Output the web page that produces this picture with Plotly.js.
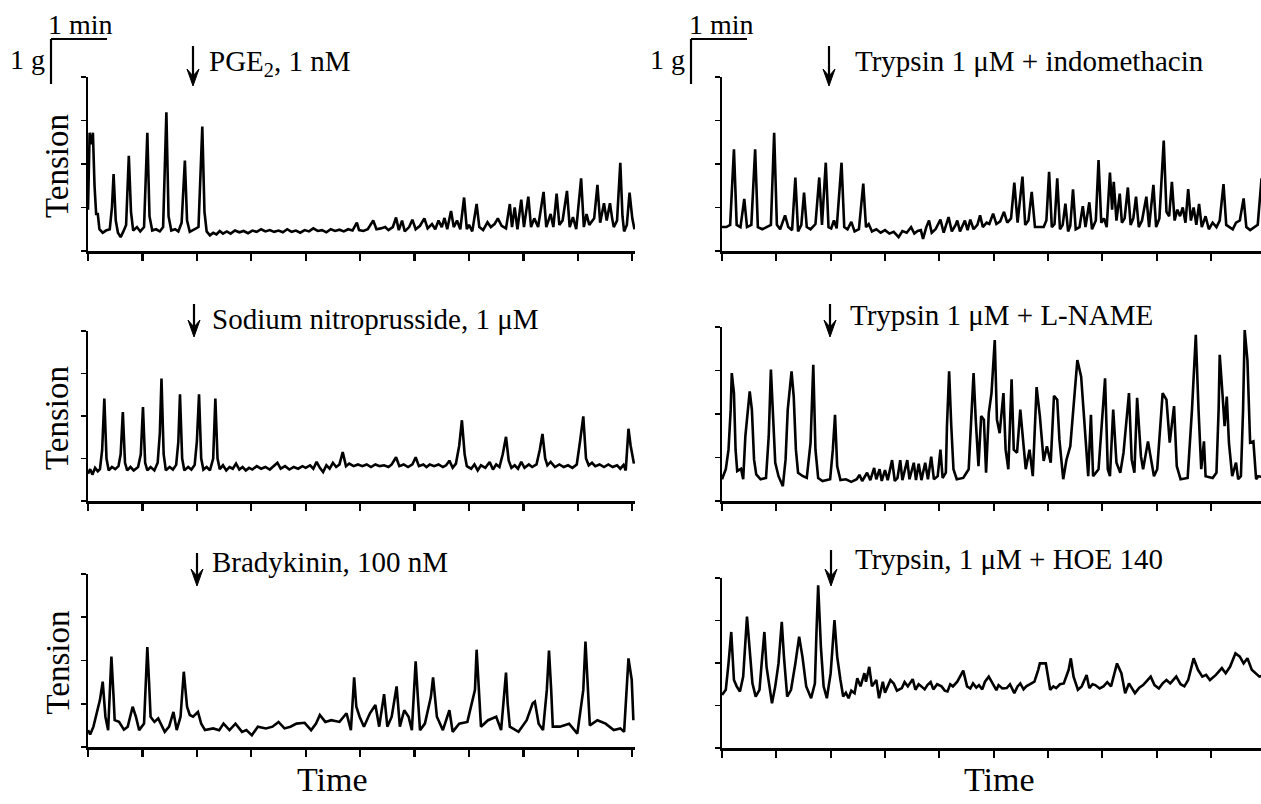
<!DOCTYPE html>
<html>
<head>
<meta charset="utf-8">
<script src="https://cdn.plot.ly/plotly-3.0.1.min.js"></script>
<style>html,body{margin:0;padding:0;background:#fff;}#chart{width:1261px;height:804px;}</style>
</head>
<body>
<div id="chart"></div>
<script>
// ---------- DATA (time in tick units, tension in tick units) ----------
const titles = ["PGE<sub>2</sub>, 1 nM", "Trypsin 1 μM + indomethacin", "Sodium nitroprusside, 1 μM",
                "Trypsin 1 μM + L-NAME", "Bradykinin, 100 nM", "Trypsin, 1 μM + HOE 140"];
const yTitle = "Tension";
const xTitle = "Time";
const scaleTime = "1 min";
const scaleForce = "1 g";

const tPGE = [0.00,0.03,0.06,0.09,0.12,0.15,0.18,0.21,0.27,0.33,0.40,0.44,0.47,0.51,0.55,0.60,0.65,0.70,0.75,0.79,0.83,0.90,0.96,1.03,1.09,1.13,1.18,1.25,1.32,1.38,1.44,1.48,1.53,1.60,1.66,1.72,1.78,1.82,1.87,1.95,2.03,2.10,2.14,2.18,2.24,2.30,2.36,2.42,2.48,2.55,2.62,2.70,2.78,2.86,2.94,3.02,3.10,3.18,3.26,3.34,3.42,3.50,3.58,3.66,3.74,3.82,3.90,3.98,4.06,4.14,4.22,4.30,4.38,4.46,4.54,4.62,4.70,4.78,4.86,4.94,4.98,5.06,5.14,5.24,5.30,5.38,5.46,5.52,5.60,5.66,5.71,5.77,5.82,5.90,5.96,6.02,6.10,6.18,6.24,6.32,6.38,6.44,6.50,6.55,6.60,6.67,6.72,6.78,6.84,6.91,6.96,7.00,7.06,7.14,7.19,7.26,7.34,7.40,7.47,7.53,7.60,7.68,7.75,7.79,7.84,7.89,7.96,8.01,8.09,8.14,8.20,8.27,8.37,8.42,8.50,8.55,8.61,8.66,8.72,8.80,8.85,8.91,8.97,9.06,9.11,9.16,9.21,9.30,9.36,9.41,9.48,9.53,9.59,9.63,9.66,9.72,9.78,9.82,9.85,9.90,9.95,10.00,10.04];
const vPGE = [0.95,2.72,2.45,2.72,1.50,0.85,0.85,0.50,0.42,0.47,0.50,1.00,1.77,0.70,0.42,0.32,0.45,0.60,2.19,0.90,0.47,0.55,0.45,0.55,2.72,0.80,0.47,0.50,0.45,0.55,3.19,0.80,0.47,0.50,0.45,0.65,2.08,0.70,0.44,0.50,0.55,2.86,0.90,0.45,0.36,0.42,0.38,0.46,0.40,0.45,0.40,0.47,0.43,0.46,0.41,0.47,0.44,0.50,0.45,0.48,0.44,0.47,0.43,0.50,0.44,0.47,0.42,0.48,0.45,0.52,0.46,0.48,0.43,0.50,0.46,0.49,0.45,0.50,0.47,0.65,0.48,0.46,0.50,0.70,0.50,0.52,0.55,0.48,0.55,0.77,0.48,0.70,0.45,0.55,0.72,0.50,0.58,0.75,0.52,0.62,0.50,0.70,0.55,0.76,0.50,0.92,0.55,0.70,0.50,1.23,0.50,0.60,0.45,1.08,0.55,0.48,0.66,0.55,0.62,0.75,0.58,0.52,1.08,0.55,1.00,0.50,1.18,0.55,1.25,0.55,0.75,0.55,1.36,0.55,0.85,0.55,1.32,0.60,0.70,1.38,0.55,0.78,0.50,1.67,0.55,0.85,0.60,0.75,1.52,0.65,1.10,0.70,1.10,0.75,0.55,0.70,2.03,0.80,0.45,0.60,1.34,0.75,0.50];

const tIndo = [0.00,0.08,0.15,0.22,0.27,0.34,0.41,0.46,0.54,0.61,0.66,0.74,0.82,0.90,0.96,1.01,1.07,1.16,1.22,1.29,1.35,1.40,1.46,1.51,1.56,1.63,1.72,1.79,1.84,1.91,1.96,2.01,2.06,2.11,2.20,2.25,2.31,2.38,2.44,2.52,2.60,2.65,2.70,2.76,2.84,2.92,3.00,3.08,3.16,3.25,3.32,3.40,3.48,3.54,3.60,3.66,3.70,3.76,3.81,3.86,3.93,4.02,4.08,4.17,4.23,4.30,4.33,4.38,4.47,4.52,4.57,4.63,4.70,4.75,4.80,4.87,4.92,4.99,5.05,5.12,5.19,5.25,5.32,5.38,5.44,5.53,5.58,5.64,5.70,5.76,5.83,5.92,5.97,6.02,6.07,6.12,6.17,6.22,6.27,6.32,6.37,6.41,6.46,6.51,6.58,6.64,6.69,6.76,6.81,6.88,6.93,6.98,7.03,7.08,7.14,7.18,7.21,7.26,7.32,7.36,7.41,7.47,7.52,7.57,7.62,7.67,7.73,7.81,7.86,7.94,7.99,8.05,8.13,8.18,8.23,8.28,8.33,8.38,8.43,8.48,8.53,8.58,8.63,8.68,8.73,8.78,8.83,8.90,8.96,9.03,9.10,9.16,9.23,9.28,9.34,9.40,9.46,9.53,9.60,9.65,9.72,9.80,9.86,9.93,9.98];
const vIndo = [0.55,0.55,0.60,2.34,0.60,0.55,1.20,0.55,0.60,2.34,0.55,0.50,0.55,0.60,2.72,0.60,0.50,0.82,0.55,0.48,1.69,0.45,0.60,1.34,0.55,0.50,0.62,1.69,0.60,2.03,0.55,0.52,0.70,0.52,2.03,0.55,0.50,0.67,0.45,0.50,1.55,0.55,0.62,0.45,0.50,0.42,0.48,0.40,0.44,0.32,0.46,0.42,0.55,0.40,0.46,0.48,0.28,0.55,0.70,0.42,0.50,0.72,0.42,0.78,0.45,0.60,0.70,0.45,0.70,0.48,0.72,0.50,0.60,0.82,0.55,0.65,0.62,0.86,0.62,0.68,0.90,0.65,0.75,1.57,0.65,1.71,0.60,0.70,1.36,0.55,0.55,0.55,0.70,1.82,0.55,0.62,1.67,0.50,0.60,1.09,0.45,0.58,1.42,0.50,0.55,1.03,0.55,1.12,0.50,0.70,2.09,0.65,0.75,0.55,1.80,0.95,1.59,0.70,1.32,0.65,0.75,1.46,0.60,0.75,1.25,0.55,0.70,1.25,0.55,1.52,0.55,0.75,2.54,0.90,0.80,1.59,0.70,0.95,0.80,1.00,0.65,1.42,0.70,1.00,0.60,1.08,0.55,0.80,0.50,0.65,0.55,0.70,1.54,0.60,0.55,0.50,0.65,0.70,1.21,0.55,0.48,0.55,0.60,1.67,0.50];

const tSNP = [0.00,0.04,0.08,0.13,0.18,0.22,0.26,0.30,0.34,0.38,0.44,0.50,0.56,0.60,0.64,0.68,0.72,0.78,0.84,0.92,0.97,1.01,1.05,1.09,1.15,1.22,1.28,1.32,1.35,1.39,1.43,1.50,1.56,1.62,1.66,1.69,1.73,1.77,1.84,1.90,1.96,2.00,2.04,2.08,2.12,2.18,2.24,2.30,2.34,2.38,2.42,2.48,2.54,2.60,2.66,2.72,2.78,2.84,2.90,2.96,3.02,3.10,3.18,3.26,3.34,3.42,3.48,3.54,3.62,3.70,3.78,3.86,3.94,4.00,4.08,4.14,4.20,4.26,4.32,4.38,4.44,4.50,4.56,4.62,4.68,4.74,4.80,4.88,4.96,5.04,5.12,5.20,5.28,5.36,5.44,5.52,5.58,5.66,5.72,5.80,5.88,5.96,6.02,6.08,6.16,6.22,6.28,6.36,6.44,6.52,6.58,6.64,6.70,6.76,6.82,6.87,6.92,6.96,7.04,7.10,7.16,7.22,7.30,7.38,7.44,7.50,7.56,7.62,7.68,7.73,7.78,7.84,7.90,7.96,8.02,8.10,8.16,8.24,8.30,8.35,8.40,8.44,8.50,8.58,8.66,8.74,8.82,8.90,8.98,9.04,9.10,9.15,9.20,9.26,9.32,9.40,9.48,9.56,9.64,9.72,9.78,9.84,9.88,9.93,9.97,10.03];
const vSNP = [0.64,0.75,0.62,0.78,0.70,0.75,1.20,2.41,1.00,0.72,0.80,0.75,0.82,1.10,2.09,0.90,0.72,0.80,0.72,0.80,1.10,2.21,0.90,0.72,0.80,0.72,0.90,1.60,2.88,1.10,0.72,0.80,0.74,0.85,1.40,2.51,1.00,0.72,0.80,0.74,0.85,1.40,2.51,1.00,0.74,0.80,0.72,1.00,2.41,1.00,0.75,0.84,0.72,0.80,0.76,0.88,0.74,0.80,0.72,0.78,0.74,0.82,0.76,0.80,0.74,0.82,0.90,0.76,0.82,0.74,0.80,0.76,0.82,0.78,0.84,0.76,0.92,0.78,0.68,0.84,0.76,0.90,0.80,0.86,1.15,0.82,0.88,0.82,0.86,0.82,0.86,0.80,0.86,0.82,0.84,0.80,0.86,1.03,0.82,0.86,0.80,0.86,1.03,0.82,0.86,0.80,0.86,0.82,0.86,0.80,0.84,0.95,0.78,0.88,1.30,1.90,1.10,0.82,0.76,0.86,0.72,0.84,0.78,0.92,0.74,0.86,0.80,1.10,1.51,0.95,0.78,0.84,0.76,0.92,0.78,0.86,0.80,0.86,1.20,1.58,1.00,0.84,0.92,0.80,0.86,0.80,0.84,0.78,0.86,1.40,1.99,1.00,0.84,0.90,0.82,0.86,0.80,0.86,0.80,0.84,0.76,0.85,0.72,1.70,1.30,0.88];

const tNAME = [0.00,0.07,0.12,0.16,0.18,0.22,0.25,0.28,0.35,0.39,0.43,0.47,0.51,0.55,0.59,0.63,0.71,0.81,0.86,0.90,0.94,0.98,1.04,1.12,1.17,1.21,1.28,1.32,1.36,1.40,1.49,1.56,1.63,1.68,1.72,1.77,1.85,1.99,2.04,2.08,2.12,2.18,2.28,2.38,2.48,2.53,2.58,2.67,2.73,2.80,2.84,2.90,2.94,3.00,3.05,3.13,3.18,3.23,3.28,3.32,3.41,3.45,3.53,3.57,3.62,3.67,3.74,3.79,3.85,3.90,3.97,4.02,4.06,4.12,4.14,4.18,4.22,4.26,4.32,4.44,4.54,4.59,4.63,4.67,4.72,4.77,4.82,4.86,4.91,4.96,5.02,5.06,5.11,5.18,5.22,5.27,5.33,5.37,5.43,5.49,5.54,5.59,5.66,5.72,5.79,5.85,5.92,5.98,6.05,6.11,6.17,6.21,6.28,6.34,6.41,6.46,6.54,6.61,6.67,6.74,6.79,6.83,6.93,7.01,7.05,7.10,7.14,7.20,7.26,7.33,7.39,7.49,7.54,7.59,7.64,7.71,7.75,7.84,7.88,7.95,8.01,8.11,8.18,8.24,8.32,8.37,8.44,8.57,8.65,8.72,8.77,8.82,8.87,8.90,9.03,9.10,9.14,9.16,9.21,9.25,9.29,9.33,9.39,9.46,9.50,9.55,9.59,9.62,9.67,9.72,9.78,9.83,9.87,9.95];
const vNAME = [0.50,0.73,1.18,2.10,2.94,2.48,1.18,0.69,0.74,0.50,1.49,1.95,2.52,2.10,0.95,0.61,0.50,0.53,1.49,3.02,2.10,0.88,0.57,0.34,0.95,2.10,2.98,2.40,1.18,0.65,0.57,0.53,1.34,3.13,1.18,0.53,0.46,0.50,1.18,1.98,0.80,0.48,0.50,0.44,0.50,0.60,0.46,0.65,0.48,0.76,0.50,0.73,0.46,0.71,0.48,0.94,0.46,0.53,0.94,0.48,0.94,0.50,0.88,0.48,0.86,0.48,0.88,0.50,1.02,0.50,0.57,1.18,0.53,0.65,1.72,2.98,1.72,0.73,0.50,0.53,0.73,1.87,2.94,1.87,0.80,1.95,1.87,0.65,2.02,2.48,3.70,1.87,1.56,2.48,1.18,0.73,2.80,1.18,1.11,2.10,1.49,0.73,1.18,0.57,2.62,1.95,0.92,1.26,0.88,2.42,2.33,1.41,0.50,0.95,1.26,2.02,3.24,2.86,1.87,0.57,1.98,0.57,0.73,2.10,2.82,0.73,0.57,2.10,0.88,0.65,1.11,2.48,0.95,0.65,2.37,1.03,0.73,1.37,1.11,0.57,0.73,2.48,2.33,1.34,2.18,0.80,0.50,0.53,2.10,3.82,2.10,0.73,1.37,0.57,0.53,0.65,2.10,3.36,2.48,1.72,2.40,1.34,0.57,0.88,0.50,0.57,2.10,3.93,3.24,1.34,1.37,0.50,0.57,0.55];

const tBK = [0.00,0.04,0.10,0.17,0.22,0.27,0.32,0.37,0.40,0.43,0.47,0.49,0.57,0.66,0.73,0.82,0.88,0.94,1.03,1.06,1.09,1.12,1.15,1.22,1.29,1.41,1.49,1.57,1.63,1.70,1.76,1.82,1.87,1.93,2.02,2.08,2.15,2.30,2.41,2.49,2.60,2.71,2.83,2.91,3.01,3.12,3.27,3.39,3.50,3.61,3.72,3.83,3.98,4.10,4.19,4.26,4.36,4.47,4.62,4.75,4.83,4.89,4.93,4.99,5.07,5.18,5.28,5.35,5.44,5.50,5.58,5.67,5.73,5.81,5.89,5.95,5.99,6.02,6.06,6.10,6.19,6.30,6.34,6.41,6.52,6.64,6.70,6.82,6.97,7.11,7.14,7.18,7.22,7.35,7.50,7.59,7.65,7.68,7.71,7.75,7.91,8.06,8.17,8.21,8.28,8.36,8.43,8.47,8.51,8.54,8.67,8.84,8.99,9.10,9.14,9.18,9.22,9.36,9.51,9.66,9.78,9.85,9.90,9.93,9.99,10.02];
const vBK = [0.39,0.29,0.47,0.81,1.09,1.51,0.70,0.39,1.16,2.09,1.16,0.62,0.58,0.40,0.47,0.93,0.70,0.39,0.54,1.55,2.31,1.55,0.70,0.58,0.66,0.35,0.47,0.81,0.39,0.70,1.74,0.93,0.74,0.70,0.81,0.54,0.39,0.43,0.39,0.54,0.39,0.54,0.35,0.39,0.27,0.47,0.43,0.47,0.58,0.43,0.47,0.54,0.56,0.39,0.54,0.74,0.58,0.62,0.58,0.78,0.39,1.61,0.93,0.70,0.47,0.78,0.97,0.47,1.22,0.47,0.70,1.40,0.47,0.85,0.70,0.39,1.16,1.98,1.16,0.39,0.54,1.16,1.61,0.70,0.39,0.85,0.35,0.54,0.58,1.32,2.25,1.32,0.47,0.62,0.70,0.39,1.16,1.72,1.01,0.47,0.35,0.62,1.01,1.05,0.54,0.39,1.32,2.23,1.32,0.47,0.47,0.54,0.31,1.32,2.44,1.32,0.50,0.62,0.54,0.39,0.43,0.35,1.32,2.05,1.55,0.62];

const tHOE = [0.00,0.07,0.12,0.17,0.22,0.27,0.33,0.39,0.46,0.51,0.56,0.62,0.69,0.73,0.78,0.82,0.87,0.92,0.98,1.04,1.10,1.14,1.20,1.27,1.35,1.42,1.48,1.55,1.64,1.71,1.74,1.77,1.82,1.87,1.93,2.00,2.07,2.12,2.18,2.23,2.28,2.33,2.38,2.44,2.49,2.55,2.62,2.65,2.71,2.76,2.84,2.89,2.96,3.00,3.05,3.10,3.16,3.22,3.31,3.36,3.42,3.51,3.56,3.62,3.67,3.73,3.78,3.84,3.89,3.96,4.04,4.10,4.15,4.20,4.25,4.33,4.44,4.51,4.57,4.62,4.68,4.73,4.79,4.84,4.91,5.00,5.05,5.09,5.16,5.24,5.30,5.38,5.44,5.49,5.55,5.60,5.68,5.75,5.82,5.85,5.96,6.04,6.10,6.15,6.22,6.29,6.38,6.42,6.47,6.55,6.62,6.71,6.76,6.82,6.87,6.95,7.02,7.09,7.16,7.24,7.27,7.35,7.42,7.49,7.55,7.60,7.68,7.75,7.82,7.89,7.96,8.04,8.11,8.18,8.25,8.36,8.44,8.51,8.58,8.68,8.76,8.84,8.91,8.98,9.09,9.20,9.27,9.35,9.45,9.53,9.60,9.67,9.75,9.82,9.89,9.95];
const vHOE = [1.25,1.37,1.99,2.73,1.60,1.45,1.33,1.68,3.09,2.30,1.52,1.21,1.37,1.99,2.73,1.91,1.45,1.05,1.45,1.99,2.97,2.15,1.21,1.37,1.99,2.62,2.15,1.45,1.17,1.52,2.77,3.83,2.38,1.45,1.17,1.76,3.01,2.15,1.60,1.21,1.30,1.17,1.35,1.29,1.64,1.45,1.76,1.56,1.91,1.45,1.60,1.17,1.56,1.30,1.45,1.60,1.52,1.35,1.41,1.55,1.45,1.62,1.37,1.50,1.45,1.38,1.48,1.55,1.38,1.50,1.45,1.35,1.33,1.50,1.45,1.56,1.82,1.45,1.40,1.52,1.42,1.48,1.38,1.56,1.68,1.45,1.36,1.48,1.40,1.41,1.50,1.29,1.45,1.52,1.38,1.45,1.50,1.56,1.84,1.99,1.99,1.37,1.45,1.41,1.50,1.52,1.84,2.11,1.68,1.37,1.45,1.72,1.41,1.50,1.48,1.40,1.45,1.55,1.45,1.84,1.99,1.76,1.29,1.52,1.40,1.29,1.42,1.48,1.58,1.68,1.48,1.40,1.52,1.60,1.52,1.68,1.50,1.45,1.60,2.11,1.84,1.68,1.72,1.60,1.72,1.88,1.76,1.91,2.23,2.15,1.99,2.11,1.84,1.76,1.68,1.70];

// ---------- LAYOUT ----------
const W = 1261, H = 804;
const px = x => x / W;
const py = y => 1 - y / H;
const FONT = "Liberation Serif, Times New Roman, serif";

// panel boxes in pixels: [left, right, top, bottom, xmax]
const boxes = [
  [88, 635, 77, 251, 10.05],
  [722, 1261, 77, 251, 9.92],
  [88, 635, 331, 501, 10.05],
  [722, 1261, 327, 501, 9.92],
  [88, 635, 574, 747, 10.05],
  [722, 1261, 578, 748, 9.92]
];
const series = [[tPGE, vPGE], [tIndo, vIndo], [tSNP, vSNP], [tNAME, vNAME], [tBK, vBK], [tHOE, vHOE]];

const data = [];
const layout = {
  width: W, height: H, margin: {l: 0, r: 0, t: 0, b: 0},
  paper_bgcolor: 'white', plot_bgcolor: 'rgba(0,0,0,0)',
  showlegend: false, hovermode: false,
  font: {family: FONT, color: 'black'},
  annotations: [], shapes: []
};

boxes.forEach((b, i) => {
  const n = i + 1, sfx = n === 1 ? '' : String(n);
  data.push({
    x: series[i][0], y: series[i][1], type: 'scatter', mode: 'lines',
    xaxis: 'x' + sfx, yaxis: 'y' + sfx,
    line: {color: 'black', width: 2.6}, hoverinfo: 'skip'
  });
  layout['xaxis' + sfx] = {
    domain: [px(b[0]), px(b[1])], range: [0, b[4]], anchor: 'y' + sfx,
    showline: true, linecolor: 'black', linewidth: 2.5,
    ticks: 'outside', ticklen: 7, tickwidth: 2.2, tickcolor: 'black',
    tick0: 0, dtick: 1, showticklabels: false, showgrid: false, zeroline: false, fixedrange: true
  };
  layout['yaxis' + sfx] = {
    domain: [py(b[3]), py(b[2])], range: [0, 4], anchor: 'x' + sfx,
    showline: true, linecolor: 'black', linewidth: 2.5,
    ticks: 'outside', ticklen: 5, tickwidth: 1.6, tickcolor: 'black',
    tick0: 0, dtick: 1, showticklabels: false, showgrid: false, zeroline: false, fixedrange: true
  };
});

// arrows: [x, tipY, tailY]; labels: [xLeft, yMid]
const arrows = [[193, 86, 46], [829, 86, 46], [194, 337, 304], [830, 337, 304], [197, 586, 553], [831, 586, 550]];
const labels = [[207, 63], [853, 61], [210, 319], [848, 315], [210, 562], [853, 559]];
arrows.forEach((a, i) => {
  const x = a[0], tip = a[1], tail = a[2];
  // shaft
  layout.shapes.push({type: 'line', xref: 'paper', yref: 'paper',
    x0: px(x), x1: px(x), y0: py(tail), y1: py(tip - 6), line: {color: 'black', width: 2.2}});
  // barbed head
  const path = 'M ' + px(x - 6) + ',' + py(tip - 17) + ' L ' + px(x) + ',' + py(tip) +
               ' L ' + px(x + 6) + ',' + py(tip - 17) + ' L ' + px(x) + ',' + py(tip - 10) + ' Z';
  layout.shapes.push({type: 'path', xref: 'paper', yref: 'paper', path: path,
    fillcolor: 'black', line: {color: 'black', width: 1}});
  layout.annotations.push({
    xref: 'paper', yref: 'paper', x: px(labels[i][0]), y: py(labels[i][1]),
    xanchor: 'left', yanchor: 'middle', text: titles[i], showarrow: false,
    font: {family: FONT, size: 29, color: 'black'}
  });
});

// Tension titles for left panels
[0, 2, 4].forEach(i => {
  const b = boxes[i];
  layout.annotations.push({
    xref: 'paper', yref: 'paper', x: px(57), y: py((b[2] + b[3]) / 2 + 2),
    xanchor: 'center', yanchor: 'middle', textangle: -90, text: yTitle, showarrow: false,
    font: {family: FONT, size: 33, color: 'black'}
  });
});
// Time titles
[[332, 779], [999, 779]].forEach(p => {
  layout.annotations.push({
    xref: 'paper', yref: 'paper', x: px(p[0]), y: py(p[1]),
    xanchor: 'center', yanchor: 'middle', text: xTitle, showarrow: false,
    font: {family: FONT, size: 34, color: 'black'}
  });
});
// Scale bars
[[51, 107, 27.5, 81], [691, 747, 667, 721]].forEach(s => {
  layout.shapes.push({type: 'line', xref: 'paper', yref: 'paper', x0: px(s[0]), x1: px(s[0]), y0: py(39), y1: py(84), line: {color: 'black', width: 2.2}});
  layout.shapes.push({type: 'line', xref: 'paper', yref: 'paper', x0: px(s[0]), x1: px(s[1]), y0: py(39), y1: py(39), line: {color: 'black', width: 2.2}});
  layout.annotations.push({xref: 'paper', yref: 'paper', x: px(s[3]), y: py(25), xanchor: 'center', yanchor: 'middle',
    text: scaleTime, showarrow: false, font: {family: FONT, size: 28, color: 'black'}});
  layout.annotations.push({xref: 'paper', yref: 'paper', x: px(s[2]), y: py(60), xanchor: 'center', yanchor: 'middle',
    text: scaleForce, showarrow: false, font: {family: FONT, size: 28, color: 'black'}});
});

Plotly.newPlot('chart', data, layout, {staticPlot: true, displayModeBar: false});
</script>
</body>
</html>
